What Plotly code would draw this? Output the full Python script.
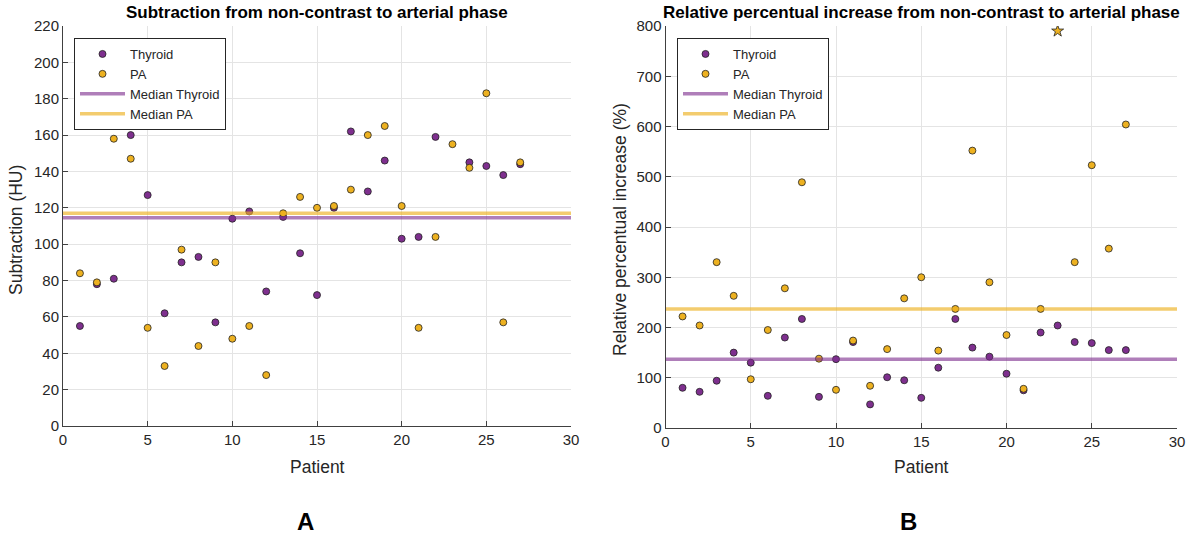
import numpy as np
import plotly.graph_objects as go

# ---------------- data ----------------
patients = list(range(1, 28))

# Panel A: subtraction (HU); None = no value shown
thyroid_sub = [55, 78, 81, 160, 127, 62, 90, 93, 57, 114, 118, 74, 115, 95, 72,
               120, 162, 129, 146, 103, 104, 159, None, 145, 143, 138, 144]
pa_sub = [84, 79, 158, 147, 54, 33, 97, 44, 90, 48, 55, 28, 117, 126, 120,
          121, 130, 160, 165, 121, 54, 104, 155, 142, 183, 57, 145]

# Panel B: relative percentual increase (%)
thyroid_rel = [80, 72, 94, 150, 130, 64, 180, 217, 62, 137, 171, 47, 101, 95, 60,
               120, 217, 160, 142, 108, 75, 190, 204, 171, 169, 155, 155]
pa_rel = [222, 204, 330, 263, 97, 195, 278, 489, 138, 76, 174, 84, 157, 258, 300,
          154, 237, 552, 290, 185, 78, 237, 790, 330, 523, 357, 604]
pa_rel_outlier_patient = 23   # drawn with a star marker

x_ticks = [0, 5, 10, 15, 20, 25, 30]
y_ticks_a = list(range(0, 221, 20))
y_ticks_b = list(range(0, 801, 100))

# ---------------- style ----------------
W, H = 1189, 535
PURPLE = "#7E2F8E"
GOLD = "#EDB120"
PURPLE_LINE = "rgba(126,47,142,0.62)"
GOLD_LINE = "rgba(237,177,32,0.65)"
FONT = "Liberation Sans, Arial, sans-serif"
TXT = "#262626"
GRID = "#e4e4e4"
AX = "#404040"

def px(x):
    return x / W

def py(y):
    return 1 - y / H

def med(vals):
    return float(np.median([v for v in vals if v is not None]))

fig = go.Figure()

def add_panel(xa, ya, leg, thy, pa, symbols=None):
    fig.add_trace(go.Scatter(
        x=patients, y=thy, mode="markers", name="Thyroid",
        xaxis=xa, yaxis=ya, legend=leg,
        marker=dict(size=7, color=PURPLE, opacity=1,
                    line=dict(color="#222", width=0.8))))
    mk = dict(size=7, color=GOLD, opacity=1, line=dict(color="#222", width=0.8))
    if symbols is not None:
        mk["symbol"] = symbols
        mk["size"] = [9 if s == "star" else 7 for s in symbols]
    fig.add_trace(go.Scatter(
        x=patients, y=pa, mode="markers", name="PA",
        xaxis=xa, yaxis=ya, legend=leg, marker=mk))
    fig.add_trace(go.Scatter(
        x=[x_ticks[0], x_ticks[-1]], y=[med(thy)] * 2, mode="lines",
        name="Median Thyroid", xaxis=xa, yaxis=ya, legend=leg,
        line=dict(color=PURPLE_LINE, width=3.5)))
    fig.add_trace(go.Scatter(
        x=[x_ticks[0], x_ticks[-1]], y=[med(pa)] * 2, mode="lines",
        name="Median PA", xaxis=xa, yaxis=ya, legend=leg,
        line=dict(color=GOLD_LINE, width=3.5)))

add_panel("x", "y", "legend", thyroid_sub, pa_sub)
syms = ["star" if p == pa_rel_outlier_patient else "circle" for p in patients]
add_panel("x2", "y2", "legend2", thyroid_rel, pa_rel, syms)

axis_common = dict(
    showgrid=True, gridcolor=GRID, gridwidth=1,
    showline=True, linecolor=AX, linewidth=1,
    ticks="inside", ticklen=5, tickcolor=AX,
    tickfont=dict(family=FONT, size=15, color=TXT),
    zeroline=False, mirror=False, automargin=False,
)

legend_common = dict(
    xanchor="left", yanchor="top",
    bgcolor="white", bordercolor=TXT, borderwidth=1,
    font=dict(family=FONT, size=13, color=TXT),
    tracegroupgap=0, itemwidth=45,
)

fig.update_layout(
    width=W, height=H,
    margin=dict(l=0, r=0, t=0, b=0, autoexpand=False),
    paper_bgcolor="white", plot_bgcolor="white",
    font=dict(family=FONT, color=TXT),
    xaxis=dict(domain=[px(63), px(571)], range=[0, 30], tickvals=x_ticks,
               anchor="y", **axis_common),
    yaxis=dict(domain=[py(426), py(26)], range=[0, 220], tickvals=y_ticks_a,
               anchor="x", **axis_common),
    xaxis2=dict(domain=[px(665.5), px(1177)], range=[0, 30], tickvals=x_ticks,
                anchor="y2", **axis_common),
    yaxis2=dict(domain=[py(428), py(26)], range=[0, 800], tickvals=y_ticks_b,
                anchor="x2", **axis_common),
    legend=dict(x=px(74), y=py(38), **legend_common),
    legend2=dict(x=px(677), y=py(38), **legend_common),
)

def ann(text, x, y, size, bold=False, angle=0, color="black"):
    fig.add_annotation(
        text=f"<b>{text}</b>" if bold else text,
        x=px(x), y=py(y), xref="paper", yref="paper",
        xanchor="center", yanchor="middle", showarrow=False, textangle=angle,
        font=dict(family=FONT, size=size, color=color))

ann("Subtraction from non-contrast to arterial phase", 317, 13, 17, bold=True)
ann("Relative percentual increase from non-contrast to arterial phase", 921, 13, 17, bold=True)
ann("Patient", 317, 467, 17.5, color=TXT)
ann("Patient", 921, 467, 17.5, color=TXT)
ann("Subtraction (HU)", 16, 230, 17.5, angle=-90, color=TXT)
ann("Relative percentual increase (%)", 620, 230, 17.5, angle=-90, color=TXT)
ann("A", 305, 521, 24, bold=True)
ann("B", 908, 521, 24, bold=True)

fig.write_html(
    "out.html",
    config={"displayModeBar": False},
    post_script="document.body.style.margin='0px';document.body.style.overflow='hidden';",
)
